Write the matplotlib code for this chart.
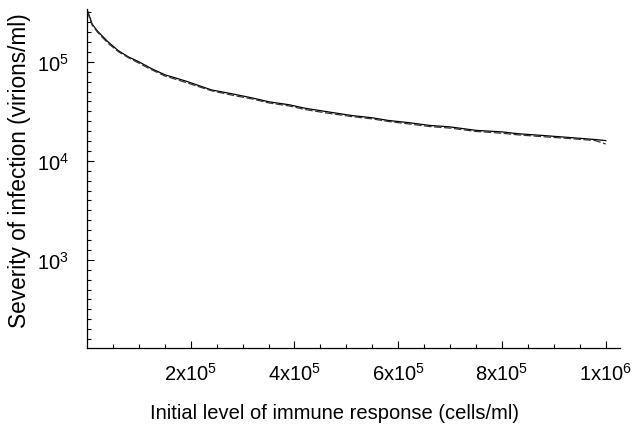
import matplotlib
matplotlib.use('Agg')
import matplotlib.pyplot as plt
import numpy as np
from matplotlib.ticker import FixedLocator, NullFormatter

plt.rcParams['font.family'] = ['Liberation Sans', 'DejaVu Sans']
plt.rcParams['mathtext.default'] = 'regular'

# initial immune response (cells/ml)
immune = [0, 1e4, 2e4, 4e4, 6e4, 8e4, 1e5, 1.25e5, 1.5e5, 1.9e5, 2.4e5, 2.8e5,
          3.2e5, 3.5e5, 3.9e5, 4.2e5, 4.6e5, 5.1e5, 5.5e5, 5.8e5, 6.2e5, 6.6e5,
          7.0e5, 7.5e5, 8.0e5, 8.3e5, 8.8e5, 9.3e5, 9.8e5, 1.0e6]
# severity (virions/ml), two runs
severity_a = [3.4e5, 2.4e5, 2.05e5, 1.6e5, 1.3e5, 1.12e5, 1.0e5, 8.5e4, 7.4e4,
              6.4e4, 5.2e4, 4.75e4, 4.3e4, 3.95e4, 3.68e4, 3.4e4, 3.15e4, 2.87e4,
              2.72e4, 2.56e4, 2.43e4, 2.28e4, 2.2e4, 2.03e4, 1.96e4, 1.88e4,
              1.8e4, 1.72e4, 1.64e4, 1.6e4]
severity_b = [3.3e5, 2.35e5, 2.0e5, 1.55e5, 1.27e5, 1.1e5, 9.7e4, 8.3e4, 7.2e4,
              6.2e4, 5.1e4, 4.6e4, 4.2e4, 3.85e4, 3.58e4, 3.3e4, 3.05e4, 2.8e4,
              2.65e4, 2.5e4, 2.36e4, 2.22e4, 2.14e4, 1.98e4, 1.9e4, 1.83e4,
              1.75e4, 1.68e4, 1.6e4, 1.48e4]

xticks = [2e5, 4e5, 6e5, 8e5, 1e6]
xtick_labels = ['$2x10^5$', '$4x10^5$', '$6x10^5$', '$8x10^5$', '$1x10^6$']
yticks = [1e3, 1e4, 1e5]
ytick_labels = ['$10^3$', '$10^4$', '$10^5$']

fig = plt.figure(figsize=(6.35, 4.27), dpi=100)
ax = fig.add_axes([0.137, 0.183, 0.839, 0.794])

ax.plot(immune, severity_a, color='black', lw=0.9)
ax.plot(immune, severity_b, color='#333333', lw=0.9, dashes=(6, 2))

ax.set_yscale('log')
ax.set_xlim(0, 1.027e6)
ax.set_ylim(129, 3.43e5)

for s in ['top', 'right']:
    ax.spines[s].set_visible(False)
ax.spines['left'].set_linewidth(0.9)
ax.spines['bottom'].set_linewidth(0.9)

ax.xaxis.set_major_locator(FixedLocator(xticks))
ax.set_xticklabels(xtick_labels)
ax.xaxis.set_minor_locator(FixedLocator(np.arange(5e4, 1.03e6, 5e4)))
ax.yaxis.set_major_locator(FixedLocator(yticks))
ax.set_yticklabels(ytick_labels)
ax.yaxis.set_minor_locator(FixedLocator([10 ** (k / 10) for k in range(21, 56) if k % 10]))
ax.yaxis.set_minor_formatter(NullFormatter())

ax.tick_params(which='both', direction='in', labelsize=14.5, width=0.8)
ax.tick_params(which='major', length=5)
ax.tick_params(which='minor', length=3)
ax.tick_params(axis='x', pad=10)
ax.tick_params(axis='y', pad=13)

ax.set_xlabel('Initial level of immune response (cells/ml)', fontsize=14.5)
ax.set_ylabel('Severity of infection (virions/ml)', fontsize=16.3)
ax.xaxis.set_label_coords(0.465, -0.162)
ax.yaxis.set_label_coords(-0.106, 0.525)

fig.savefig('out.png', dpi=100)
